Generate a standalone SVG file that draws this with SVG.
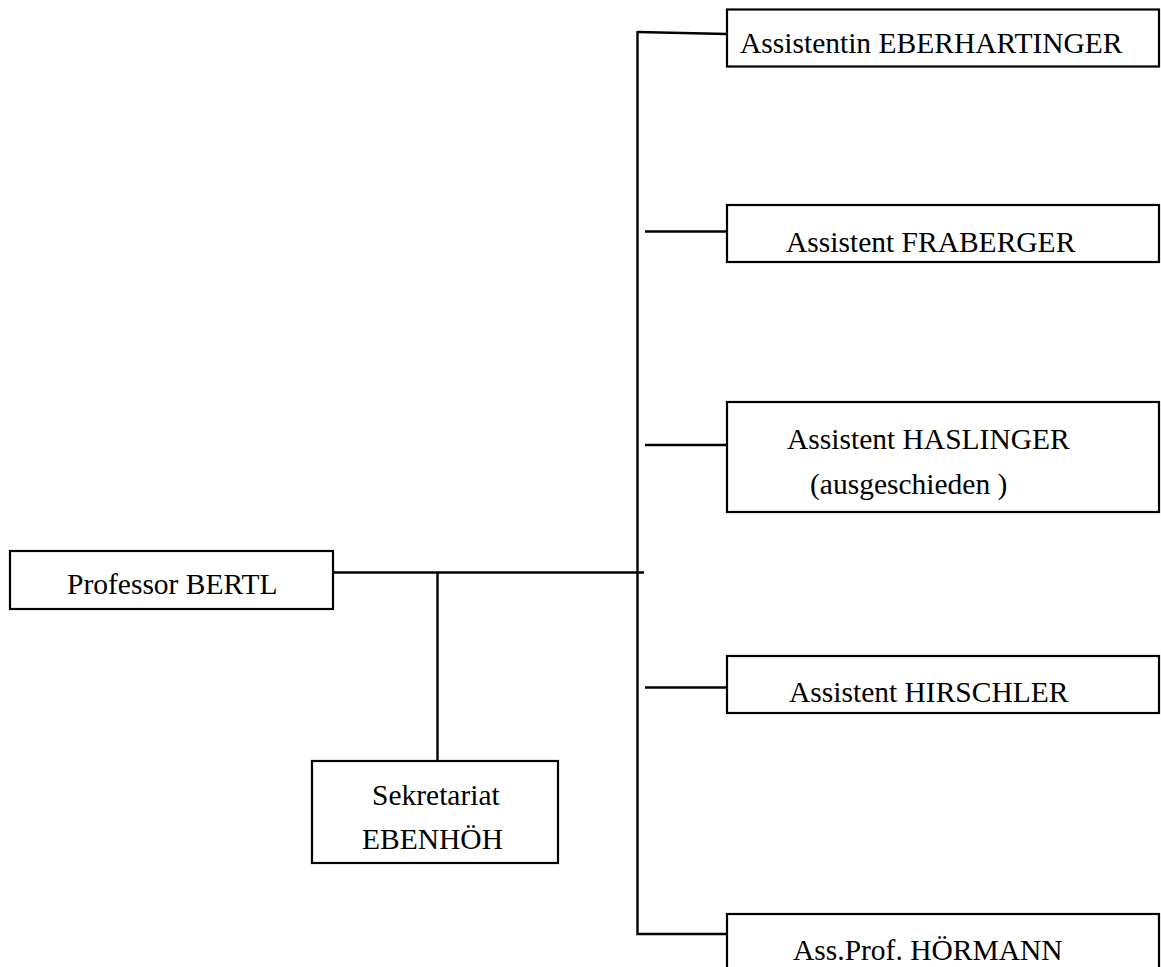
<svg xmlns="http://www.w3.org/2000/svg" width="1161" height="967" viewBox="0 0 1161 967">
<style>
.box{fill:#fff;stroke:#000;stroke-width:2.2}
.ln{fill:none;stroke:#000;stroke-width:2.4}
text{font-family:"Liberation Serif","Times New Roman",serif;font-size:29.5px;fill:#000}
</style>
<rect width="1161" height="967" fill="#fff"/>
<g id="connectors">
<path class="ln" d="M637.5,32 L727,34"/>
<path class="ln" d="M637.5,31 L637.5,934 L733,934"/>
<path class="ln" d="M645,231.5 L727,231.5"/>
<path class="ln" d="M645,445 L727,445"/>
<path class="ln" d="M645,687.5 L727,687.5"/>
<path class="ln" d="M333,572.5 L644,572.5"/>
<path class="ln" d="M437.5,572.5 L437.5,761"/>
</g>
<g id="eberhartinger">
<rect class="box" x="727" y="9.5" width="432" height="57"/>
<text x="740" y="53">Assistentin EBERHARTINGER</text>
</g>
<g id="fraberger">
<rect class="box" x="727" y="205" width="432" height="57"/>
<text x="786" y="252">Assistent FRABERGER</text>
</g>
<g id="haslinger">
<rect class="box" x="727" y="402" width="432" height="110"/>
<text x="787" y="449">Assistent HASLINGER</text>
<text x="810" y="494">(ausgeschieden )</text>
</g>
<g id="bertl">
<rect class="box" x="10" y="551" width="323" height="58"/>
<text x="67" y="594">Professor BERTL</text>
</g>
<g id="hirschler">
<rect class="box" x="727" y="656" width="432" height="57"/>
<text x="789" y="702">Assistent HIRSCHLER</text>
</g>
<g id="ebenhoeh">
<rect class="box" x="312" y="761" width="246" height="102"/>
<text x="372" y="805">Sekretariat</text>
<text x="362" y="849">EBENHÖH</text>
</g>
<g id="hoermann">
<rect class="box" x="727" y="914" width="432" height="80"/>
<text x="793" y="960">Ass.Prof. HÖRMANN</text>
</g>
</svg>
